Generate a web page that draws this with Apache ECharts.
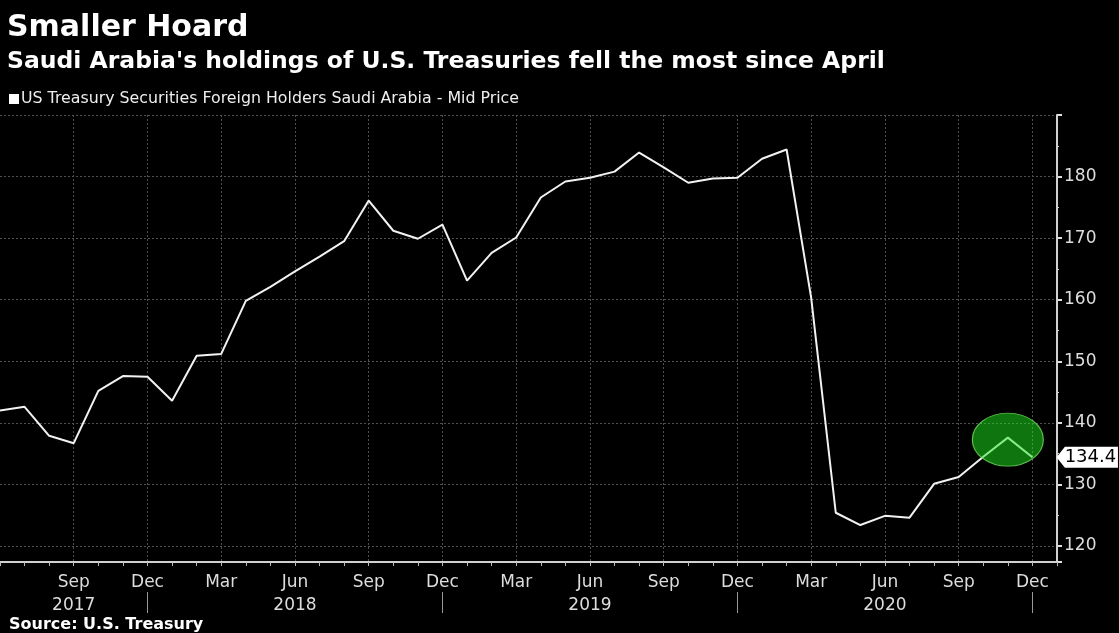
<!DOCTYPE html>
<html>
<head>
<meta charset="utf-8">
<script src="https://cdn.jsdelivr.net/npm/echarts@6/dist/echarts.min.js"></script>
<style>
html,body{margin:0;padding:0;background:#000;}
#chart{width:1119px;height:633px;}
</style>
</head>
<body>
<div id="chart"></div>
<script>
const categories = ['Jun 2017','Jul 2017','Aug 2017','Sep 2017','Oct 2017','Nov 2017','Dec 2017',
  'Jan 2018','Feb 2018','Mar 2018','Apr 2018','May 2018','Jun 2018','Jul 2018','Aug 2018','Sep 2018','Oct 2018','Nov 2018','Dec 2018',
  'Jan 2019','Feb 2019','Mar 2019','Apr 2019','May 2019','Jun 2019','Jul 2019','Aug 2019','Sep 2019','Oct 2019','Nov 2019','Dec 2019',
  'Jan 2020','Feb 2020','Mar 2020','Apr 2020','May 2020','Jun 2020','Jul 2020','Aug 2020','Sep 2020','Oct 2020','Nov 2020','Dec 2020',
  'Jan 2021'];
const holdings = [142.0,142.6,137.9,136.7,145.2,147.6,147.5,
  143.6,150.9,151.2,159.8,162.1,164.6,167.0,169.5,176.1,171.2,169.9,172.2,
  163.1,167.6,170.1,176.6,179.2,179.8,180.8,183.9,181.5,179.0,179.7,179.8,
  182.9,184.4,160.3,125.4,123.4,124.9,124.6,130.1,131.2,134.5,137.6,134.4,
  null];
const quarterMonths = ['Mar','Jun','Sep','Dec'];
const yearLabelAt = ['Sep 2017','Jun 2018','Jun 2019','Jun 2020'];
const yearSeparators = ['Dec 2017','Dec 2018','Dec 2019','Dec 2020'];
const yLabels = [120,130,140,150,160,170,180];
const highlightMonth = 'Nov 2020';
const lastMonth = 'Dec 2020';

const FONT = "'DejaVu Sans', Verdana, sans-serif";
const isQuarter = (i, v) => i > 0 && quarterMonths.indexOf(v.split(' ')[0]) >= 0;
const hiIdx = categories.indexOf(highlightMonth);
const lastIdx = categories.indexOf(lastMonth);

const chart = echarts.init(document.getElementById('chart'));
chart.setOption({
  backgroundColor: '#000',
  animation: false,
  title: [
    {text: 'Smaller Hoard', left: 2, top: 8, textStyle: {color: '#fff', fontFamily: FONT, fontWeight: 'bold', fontSize: 30}},
    {text: "Saudi Arabia's holdings of U.S. Treasuries fell the most since April", left: 2, top: 45, textStyle: {color: '#fff', fontFamily: FONT, fontWeight: 'bold', fontSize: 23.5}},
    {text: 'Source: U.S. Treasury', left: 4, top: 612, textStyle: {color: '#fff', fontFamily: FONT, fontWeight: 'bold', fontSize: 16}}
  ],
  legend: {
    left: 4, top: 86, icon: 'rect', itemWidth: 10, itemHeight: 10, itemGap: 4,
    textStyle: {color: '#eee', fontFamily: FONT, fontSize: 15.8, padding: [0,0,0,-3]},
    data: ['US Treasury Securities Foreign Holders Saudi Arabia - Mid Price']
  },
  grid: {left: 0, right: 62, top: 115, bottom: 71, containLabel: false, outerBoundsMode: 'none'},
  xAxis: [
    {
      type: 'category', data: categories, boundaryGap: false,
      axisLine: {show: true, lineStyle: {color: '#d0d0d0', width: 2}},
      axisTick: {show: true, interval: 0, length: 4, lineStyle: {color: '#bbb'}},
      axisLabel: {
        color: '#ddd', fontFamily: FONT, fontSize: 17, margin: 9, lineHeight: 23,
        interval: (i, v) => isQuarter(i, v),
        formatter: (v) => {
          const m = v.split(' ')[0], y = v.split(' ')[1];
          return yearLabelAt.indexOf(v) >= 0 ? m + '\n' + y : m;
        }
      },
      splitLine: {show: true, interval: (i, v) => isQuarter(i, v), lineStyle: {color: '#505050', type: [2, 2]}}
    },
    {
      type: 'category', data: categories, boundaryGap: false, position: 'bottom', offset: 30,
      axisLine: {show: false},
      axisTick: {show: true, length: 21, interval: (i, v) => yearSeparators.indexOf(v) >= 0, lineStyle: {color: '#999'}},
      axisLabel: {show: false},
      splitLine: {show: false}
    }
  ],
  yAxis: [
    {
      type: 'value', position: 'right', min: 117.4, max: 190, splitNumber: 7,
      axisLine: {show: false},
      axisTick: {show: true, length: 5, lineStyle: {color: '#e0e0e0', width: 2}},
      axisLabel: {color: '#ddd', fontFamily: FONT, fontSize: 17, margin: 7,
        formatter: (v) => yLabels.indexOf(Math.round(v * 10) / 10) >= 0 ? String(v) : ''},
      splitLine: {show: true, lineStyle: {color: '#505050', type: [2, 2]}}
    },
    {
      type: 'value', position: 'right', min: 117.4, max: 190, splitNumber: 14,
      axisLine: {show: true, lineStyle: {color: '#d0d0d0', width: 2}},
      axisTick: {show: true, length: 2, lineStyle: {color: '#d0d0d0'}},
      axisLabel: {show: false},
      splitLine: {show: false}
    }
  ],
  series: [{
    name: 'US Treasury Securities Foreign Holders Saudi Arabia - Mid Price',
    type: 'line', data: holdings, xAxisIndex: 0, yAxisIndex: 0,
    showSymbol: false, symbol: 'none', clip: false,
    itemStyle: {color: '#fff'},
    lineStyle: {color: '#f2f2f2', width: 2},
    markPoint: {
      z: 5,
      data: [
        {coord: [hiIdx, holdings[hiIdx]], symbol: 'circle', symbolSize: [71, 53], symbolOffset: [0, 2],
          itemStyle: {color: 'rgba(30,235,30,0.5)', borderColor: 'rgba(110,220,90,0.85)', borderWidth: 1},
          label: {show: false}},
        {coord: [lastIdx, holdings[lastIdx]], value: holdings[lastIdx],
          symbol: 'path://M0,10 L8,0 L61,0 L61,21 L8,21 L0,11 Z', symbolSize: [61, 21], symbolOffset: [55, 0],
          itemStyle: {color: '#fff'},
          label: {show: true, position: 'inside', offset: [3, 0], color: '#000', fontFamily: FONT, fontSize: 18,
            formatter: (p) => p.value.toFixed(1)}}
      ]
    }
  }]
});
</script>
</body>
</html>
